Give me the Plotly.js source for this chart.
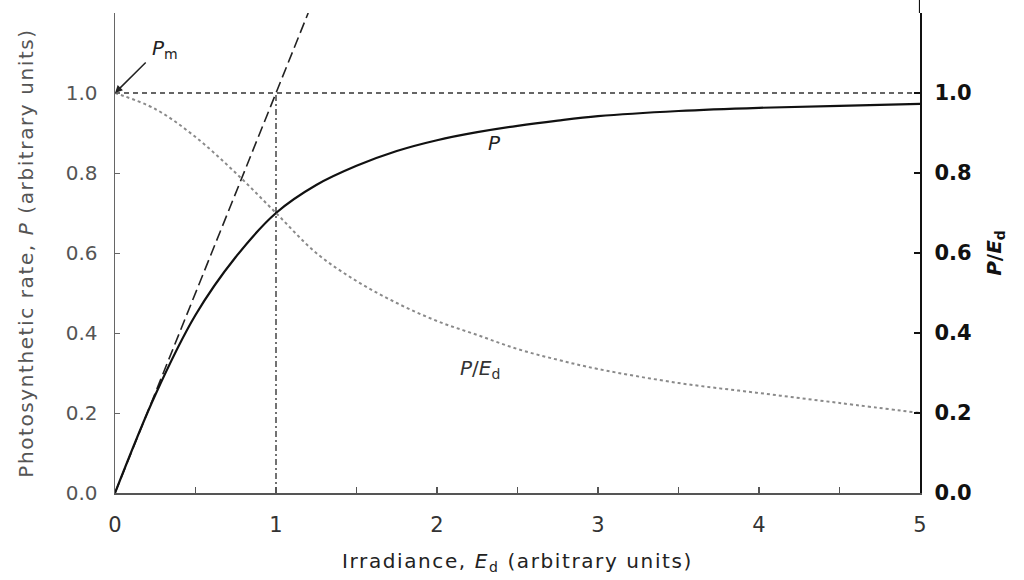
<!DOCTYPE html>
<html>
<head>
<meta charset="utf-8">
<script src="https://cdn.plot.ly/plotly-3.0.1.min.js"></script>
<style>
  html, body { margin: 0; padding: 0; background: #fff; }
  #chart { width: 1024px; height: 580px; }
  /* airy, typeset look for the axis titles */
  .g-xtitle text { letter-spacing: 1.6px; }
  .g-ytitle text { letter-spacing: 1.6px; }
</style>
</head>
<body>
<div id="chart"></div>
<script>
// Irradiance (arbitrary units)
const irradiance = [0, 0.25, 0.5, 0.75, 1.0, 1.25, 1.5, 1.75, 2.0, 2.25, 2.5, 2.75, 3.0, 3.5, 4.0, 4.5, 5.0];
// Photosynthetic rate P (arbitrary units)
const photoRate = [0, 0.245, 0.445, 0.59, 0.70, 0.77, 0.818, 0.855, 0.882, 0.902, 0.918, 0.931, 0.942, 0.955, 0.963, 0.968, 0.973];
// Efficiency P/Ed
const efficiency = [1.0, 0.96, 0.89, 0.80, 0.70, 0.60, 0.53, 0.475, 0.43, 0.395, 0.36, 0.333, 0.31, 0.275, 0.25, 0.225, 0.20];
// Initial slope line (P = alpha * Ed)
const slopeE = [0, 1.2];
const slopeP = [0, 1.2];
// Saturation level and saturation onset
const pMax = 1.0;
const eK = 1.0;
const eMax = 5;

const xTickVals = [0, 0.5, 1, 1.5, 2, 2.5, 3, 3.5, 4, 4.5, 5];
const xTickText = ['0', '', '1', '', '2', '', '3', '', '4', '', '5'];
const yTickVals = [0, 0.2, 0.4, 0.6, 0.8, 1.0, 1.2];
const yTickText = ['0.0', '0.2', '0.4', '0.6', '0.8', '1.0', ''];
const y2TickVals = [0, 0.2, 0.4, 0.6, 0.8, 1.0];
const y2TickText = ['0.0', '0.2', '0.4', '0.6', '0.8', '1.0'];

const FONT = 'DejaVu Sans, Verdana, sans-serif';

const traces = [
  { // P/Ed curve, right-hand axis
    x: irradiance, y: efficiency, yaxis: 'y2', mode: 'lines',
    line: { color: '#8a8a8a', width: 2, dash: 'dot', shape: 'spline' },
    hoverinfo: 'skip'
  },
  { // saturation level
    x: [0, eMax], y: [pMax, pMax], mode: 'lines', line: { color: '#333', width: 1.6, dash: '5px,4px' },
    hoverinfo: 'skip'
  },
  { // Ek marker
    x: [eK, eK], y: [0, pMax], mode: 'lines', line: { color: '#444', width: 1.5, dash: '6px,3px,2px,3px' },
    hoverinfo: 'skip'
  },
  { // initial slope
    x: slopeE, y: slopeP, mode: 'lines', line: { color: '#222', width: 1.6, dash: '11px,5px' },
    hoverinfo: 'skip'
  },
  { // P curve
    x: irradiance, y: photoRate, mode: 'lines', line: { color: '#111', width: 2.2, shape: 'spline', smoothing: 1 },
    hoverinfo: 'skip'
  }
];

const layout = {
  width: 1024, height: 580,
  margin: { l: 115, r: 104, t: 13, b: 87 },
  paper_bgcolor: '#fff', plot_bgcolor: '#fff',
  showlegend: false,
  font: { family: FONT, size: 20, color: '#333' },
  xaxis: {
    range: [0, eMax], showgrid: false, zeroline: false,
    showline: true, linecolor: '#555', linewidth: 2,
    ticks: 'inside', ticklen: 6, tickwidth: 1.2, tickcolor: '#555',
    tickmode: 'array', tickvals: xTickVals, ticktext: xTickText,
    tickfont: { size: 21, color: '#333' }, ticklabelstandoff: 12,
    title: { text: 'Irradiance, <i>E</i><sub>d</sub> (arbitrary units)', font: { size: 20, color: '#222' }, standoff: 18 }
  },
  yaxis: {
    range: [0, 1.2], showgrid: false, zeroline: false,
    showline: true, linecolor: '#666', linewidth: 1.5,
    ticks: 'inside', ticklen: 5, tickwidth: 1, tickcolor: '#666',
    tickmode: 'array', tickvals: yTickVals, ticktext: yTickText,
    tickfont: { size: 20, color: '#555' }, ticklabelstandoff: 12,
    title: { text: 'Photosynthetic rate, <i>P</i> (arbitrary units)', font: { size: 20, color: '#555' }, standoff: 26 }
  },
  yaxis2: {
    overlaying: 'y', side: 'right', range: [0, 1.2],
    showgrid: false, zeroline: false,
    showline: true, linecolor: '#111', linewidth: 2.2,
    ticks: 'inside', ticklen: 6, tickwidth: 1.5, tickcolor: '#111',
    tickmode: 'array', tickvals: y2TickVals, ticktext: y2TickText,
    tickfont: { size: 21, color: '#111', weight: 'bold' }, ticklabelstandoff: 8,
    title: { text: '<i>P</i>/<i>E</i><sub>d</sub>', font: { size: 20, color: '#111', weight: 'bold' }, standoff: 16 }
  },
  shapes: [
    { type: 'line', xref: 'x', yref: 'paper', x0: eMax, x1: eMax, y0: 1, y1: 1.03, line: { color: '#111', width: 2.2 } }
  ],
  annotations: [
    { x: 0, y: pMax, ax: 0.2, ay: 1.08, axref: 'x', ayref: 'y', xref: 'x', yref: 'y',
      text: '', showarrow: true, arrowhead: 2, arrowsize: 1, arrowwidth: 1.5, arrowcolor: '#222' },
    { x: 0.31, y: 1.11, xref: 'x', yref: 'y', text: '<i>P</i><sub>m</sub>', showarrow: false,
      font: { size: 20, color: '#222' } },
    { x: 2.36, y: 0.875, xref: 'x', yref: 'y', text: '<i>P</i>', showarrow: false,
      font: { size: 20, color: '#222' } },
    { x: 2.27, y: 0.31, xref: 'x', yref: 'y', text: '<i>P</i>/<i>E</i><sub>d</sub>', showarrow: false,
      font: { size: 20, color: '#333' } },
    { x: eK, y: -0.175, xref: 'x', yref: 'y', text: '<i>E</i><sub>k</sub>', showarrow: false,
      font: { size: 20, color: '#333' } }
  ]
};

Plotly.newPlot('chart', traces, layout, { displayModeBar: false, staticPlot: true });
</script>
</body>
</html>
